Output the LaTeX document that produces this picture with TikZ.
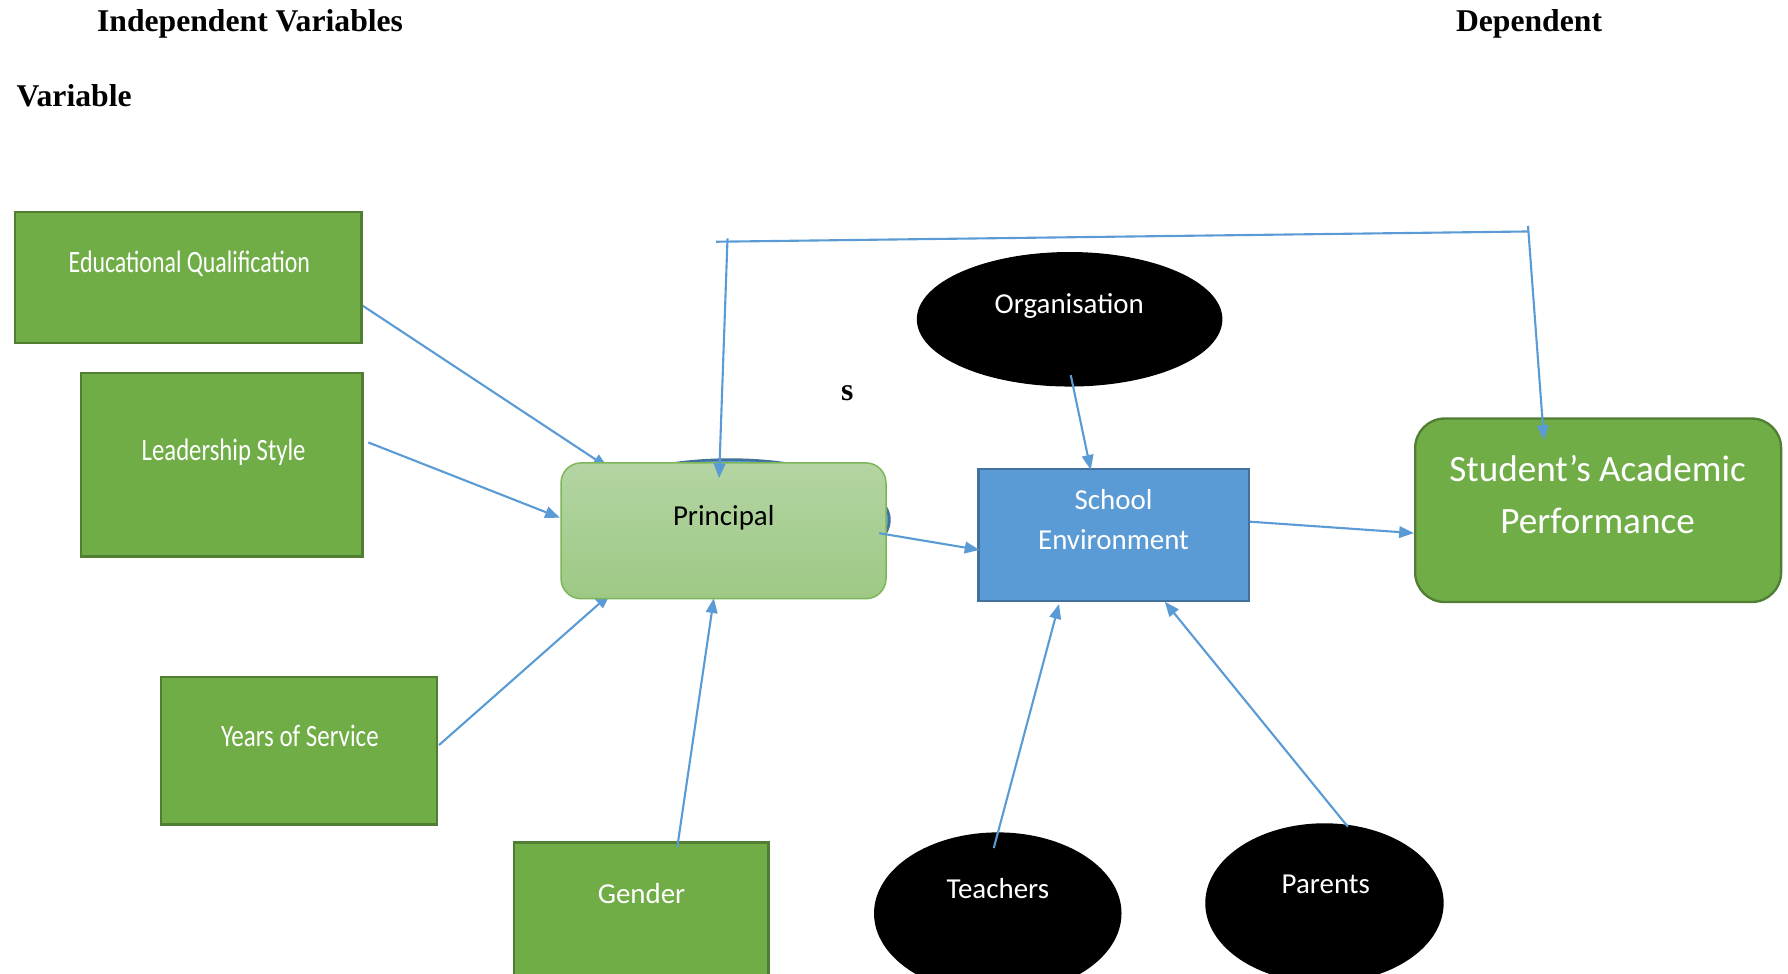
\documentclass[tikz,border=0pt]{standalone}
\usepackage{fontspec}
\setmainfont{Carlito}
\newfontfamily\tnr{Liberation Serif}
\usetikzlibrary{arrows.meta,shapes.geometric}
\definecolor{gfill}{HTML}{70AD47}
\definecolor{gline}{HTML}{507E32}
\definecolor{bfill}{HTML}{5B9BD5}
\definecolor{bline}{HTML}{41719C}
\definecolor{ptop}{HTML}{B4D5A3}
\definecolor{pbot}{HTML}{9DC984}
\definecolor{pline}{HTML}{7DB55A}
\definecolor{arr}{HTML}{5B9BD5}
\begin{document}
\begin{tikzpicture}[x=0.54pt,y=-0.54pt,
  gbox/.style={draw=gline,fill=gfill,line width=1.1pt,inner sep=0pt},
  oval/.style={ellipse,fill=black,inner sep=0pt},
  wtext/.style={text=white,font=\fontsize{13.7}{16}\selectfont,anchor=base,inner sep=0pt},
  ctext/.style={text=white,font=\fontsize{14.7}{16}\selectfont,anchor=base,inner sep=0pt},
  head/.style={font=\tnr\bfseries\fontsize{15}{17}\selectfont,anchor=base,inner sep=0pt},
  conn/.style={draw=arr,line width=1pt,-{Triangle[length=7pt,width=5.5pt]}},
  plain/.style={draw=arr,line width=1pt}]
\useasboundingbox (0,0) rectangle (1568,853.3);

% headings
\node[head] (h1) at (219.3,27.8) {Independent Variables};
\node[head] (h2) at (1340.9,27.8) {Dependent};
\node[head] (h3) at (65,93) {Variable};
\node[head] (h4) at (743,351.4) {s};

% hidden ellipse behind Principal
\node[ellipse,draw=bline,fill=bfill,line width=1.2pt,minimum width=151.2pt,minimum height=57.2pt,inner sep=0pt] (hid) at (640,456) {};

% arrow end points
\coordinate (a1s) at (309.6,262.5); \coordinate (a1e) at (533,410);
\coordinate (a2s) at (323,388);     \coordinate (a2e) at (491,454);
\coordinate (a3s) at (385,653.4);   \coordinate (a3e) at (535,521);
\coordinate (a4s) at (594,742.6);   \coordinate (a4e) at (626,524.6);
\coordinate (a5s) at (771,467.6);   \coordinate (a5e) at (859,482.3);
\coordinate (a6s) at (939,329);     \coordinate (a6e) at (956.5,412);
\coordinate (a7s) at (871.5,743.7); \coordinate (a7e) at (928.7,529.7);
\coordinate (a8s) at (1182,725);    \coordinate (a8e) at (1021.5,527.7);
\coordinate (a9s) at (1096,457.5);  \coordinate (a9e) at (1240,467.5);
\coordinate (tl) at (628,212);      \coordinate (tr) at (1340,203);
\coordinate (vls) at (638,209);     \coordinate (vle) at (630.6,419.3);
\coordinate (vrs) at (1340,198);    \coordinate (vre) at (1354,385.9);

% arrows hidden under Principal
\draw[conn] (a1s) -- (a1e);
\draw[conn] (a3s) -- (a3e);

% boxes
\node[gbox,minimum width=164.2pt,minimum height=62.1pt] (edq) at (165,243.5) {};
\node[gbox,minimum width=133.4pt,minimum height=86.9pt] (lead) at (194.5,407.5) {};
\node[gbox,minimum width=130.7pt,minimum height=69.7pt] (years) at (262,658.5) {};
\node[gbox,minimum width=120.4pt,minimum height=76.7pt] (gender) at (562.5,810) {};
\node[draw=pline,top color=ptop,bottom color=pbot,line width=0.7pt,rounded corners=9.5pt,
      minimum width=153.9pt,minimum height=64.3pt,inner sep=0pt] (prin) at (634.5,465.5) {};
\node[draw=bline,fill=bfill,line width=1.1pt,minimum width=128pt,minimum height=62.6pt,inner sep=0pt] (school) at (976.5,469) {};
\node[gbox,rounded corners=14pt,minimum width=173.3pt,minimum height=86.9pt] (stud) at (1401.5,447.5) {};
\node[oval,minimum width=144.7pt,minimum height=63.7pt] (org) at (938,280) {};
\node[oval,minimum width=117.2pt,minimum height=76.7pt] (teach) at (875,801) {};
\node[oval,minimum width=112.9pt,minimum height=75.6pt] (par) at (1161.5,792) {};

% texts
\node[ctext] (tedq) at (166.1,238.8) {\scalebox{0.769}[1]{Educational Qualification}};
\node[ctext] (tlead) at (196.1,404) {\scalebox{0.797}[1]{Leadership Style}};
\node[ctext] (tyears) at (263,654.8) {\scalebox{0.804}[1]{Years of Service}};
\node[wtext] (tgender) at (562.6,792.2) {Gender};
\node[wtext,text=black] (tprin) at (634.7,461) {Principal};
\node[wtext,align=center,font=\fontsize{13.7}{19.2}\selectfont] (tschool) at (976.5,482.3) {School\\Environment};
\node[wtext,align=center,font=\fontsize{17.6}{24.5}\selectfont] (tstud) at (1401,467.7) {Student’s Academic\\Performance};
\node[wtext] (torg) at (937.7,274.7) {Organisation};
\node[wtext] (tteach) at (875,787.8) {Teachers};
\node[wtext] (tpar) at (1162.7,784) {Parents};

% arrows on top
\draw[conn] (a2s) -- (a2e);
\draw[conn] (a4s) -- (a4e);
\draw[conn] (a5s) -- (a5e);
\draw[conn] (a6s) -- (a6e);
\draw[conn] (a7s) -- (a7e);
\draw[conn] (a8s) -- (a8e);
\draw[conn] (a9s) -- (a9e);
\draw[plain] (tl) -- (tr);
\draw[conn] (vls) -- (vle);
\draw[conn] (vrs) -- (vre);
\end{tikzpicture}
\end{document}
